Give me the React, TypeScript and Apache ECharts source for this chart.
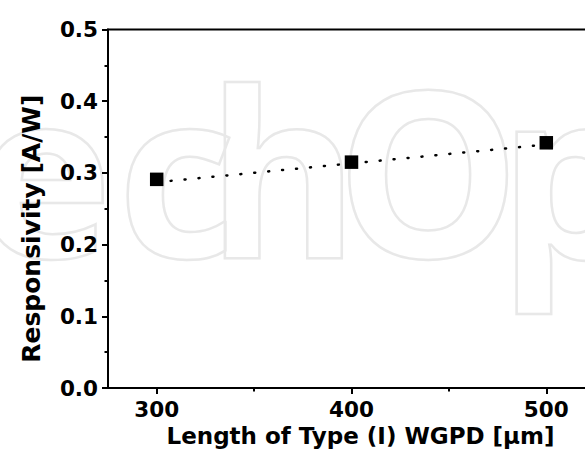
import React, { useEffect, useRef } from "react";
import * as echarts from "echarts";

const lengths = [300, 400, 500];
const responsivity = [0.291, 0.315, 0.342];
const fitX = [300, 500];
const fitY = [0.287, 0.3395];
const xMajorTicks = [300, 400, 500];
const xMinorTicks = [350, 450];
const watermarkLetters = ["e", "c", "h", "O", "p"];
const watermarkCenters = [44, 177, 283, 428, 572];

const FONT = "'DejaVu Sans', 'Liberation Sans', Arial, sans-serif";

export default function App() {
  const ref = useRef<HTMLDivElement>(null);
  useEffect(() => {
    if (!ref.current) return;
    const chart = echarts.init(ref.current, null, { renderer: "svg" });
    chart.setOption({
      animation: false,
      backgroundColor: "#fff",
      graphic: watermarkLetters.map((ch, i) => ({
        type: "text",
        x: watermarkCenters[i],
        y: 168,
        z: -10,
        silent: true,
        style: {
          text: ch,
          font: "bold 232px 'Open Sans', sans-serif",
          fill: "none",
          stroke: "#e8e8e8",
          lineWidth: 2.5,
          textAlign: "center",
          textVerticalAlign: "middle",
        },
      })),
      grid: {
        left: 108,
        top: 29.5,
        bottom: 72,
        right: -10,
        show: true,
        borderColor: "#000",
        borderWidth: 2,
        outerBoundsMode: "none",
        containLabel: false,
      },
      xAxis: [
        {
          type: "value",
          min: 275,
          max: 525,
          name: "Length of Type (I) WGPD [μm]",
          nameLocation: "middle",
          nameGap: 36,
          nameTextStyle: {
            fontFamily: FONT,
            fontWeight: "bold",
            fontSize: 23,
            color: "#000",
            padding: [0, 0, 0, 18],
          },
          axisLine: { show: true, onZero: false, lineStyle: { color: "#000", width: 2 } },
          axisTick: { show: true, inside: false, length: 6, customValues: xMajorTicks, lineStyle: { color: "#000", width: 2 } },
          axisLabel: { customValues: xMajorTicks, margin: 10, fontFamily: FONT, fontWeight: "bold", fontSize: 21.5, color: "#000" },
          splitLine: { show: false },
        },
        {
          type: "value",
          min: 275,
          max: 525,
          position: "bottom",
          axisLine: { show: false },
          axisTick: { show: true, inside: false, length: 3.5, customValues: xMinorTicks, lineStyle: { color: "#000", width: 2 } },
          axisLabel: { show: false },
          splitLine: { show: false },
        },
      ],
      yAxis: {
        type: "value",
        min: 0,
        max: 0.5,
        interval: 0.1,
        name: "Responsivity [A/W]",
        nameLocation: "middle",
        nameGap: 64,
        nameTextStyle: {
          fontFamily: FONT,
          fontWeight: "bold",
          fontSize: 25,
          color: "#000",
          padding: [0, 40, 0, 0],
        },
        axisLine: { show: true, onZero: false, lineStyle: { color: "#000", width: 2 } },
        axisTick: { show: true, inside: false, length: 6, lineStyle: { color: "#000", width: 2 } },
        minorTick: { show: true, splitNumber: 2, length: 3.5, lineStyle: { color: "#000", width: 2 } },
        axisLabel: {
          margin: 10,
          fontFamily: FONT,
          fontWeight: "bold",
          fontSize: 21.5,
          color: "#000",
          formatter: (v: number) => v.toFixed(1),
        },
        splitLine: { show: false },
      },
      series: [
        {
          type: "line",
          data: fitX.map((x, i) => [x, fitY[i]]),
          showSymbol: false,
          symbol: "none",
          lineStyle: { color: "#000", width: 2.5, type: [1, 13], cap: "round" },
          z: 2,
        },
        {
          type: "scatter",
          data: lengths.map((x, i) => [x, responsivity[i]]),
          symbol: "rect",
          symbolSize: 13.5,
          itemStyle: { color: "#000", opacity: 1 },
          z: 3,
        },
      ],
    });
    return () => chart.dispose();
  }, []);
  return <div ref={ref} style={{ position: "fixed", left: 0, top: 0, width: 585, height: 460 }} />;
}
